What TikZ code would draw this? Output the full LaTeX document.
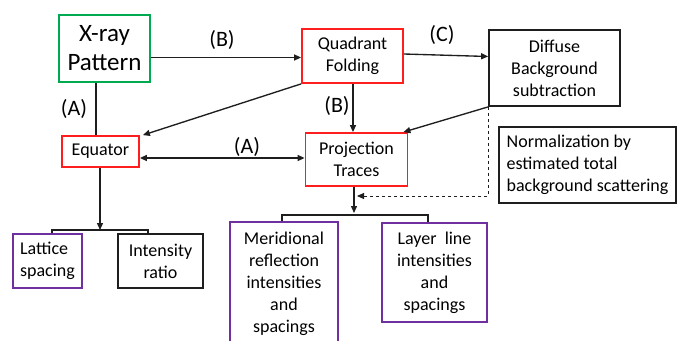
\documentclass[tikz,border=0pt]{standalone}
\usepackage{fontspec}
\setmainfont{Carlito}
\usetikzlibrary{arrows.meta,calc}
\definecolor{boxgreen}{RGB}{0,170,80}
\definecolor{boxred}{RGB}{255,30,30}
\definecolor{boxpurple}{RGB}{112,48,160}
\definecolor{linegray}{RGB}{30,30,30}
\begin{document}
\begin{tikzpicture}[x=1pt,y=-1pt,
  every node/.style={font=\fontsize{18}{22}\selectfont, inner sep=2pt, align=center},
  box/.style={draw, line width=1.8pt, fill=white},
  greenbox/.style={box, draw=boxgreen, line width=2.6pt},
  redbox/.style={box, draw=boxred},
  blackbox/.style={box, draw=linegray},
  purplebox/.style={box, draw=boxpurple},
  conn/.style={draw=linegray, line width=1.35pt},
  arr/.style={conn, -{Triangle[length=7pt,width=6pt]}},
  darr/.style={conn, {Triangle[length=7pt,width=6pt]}-{Triangle[length=7pt,width=6pt]}},
  lab/.style={font=\fontsize{22}{26}\selectfont, inner sep=0pt}
]
\useasboundingbox (0,0) rectangle (682,340);
\clip (0,0) rectangle (682,340);

% nodes
\node[greenbox, minimum width=91pt, minimum height=67pt, font=\fontsize{25}{29}\selectfont] (x) at (104.5,48.5) {X-ray\\Pattern};
\node[redbox, minimum width=101pt, minimum height=54pt] (q) at (352.5,56) {Quadrant\\Folding};
\node[blackbox, minimum width=131pt, minimum height=76pt] (d) at (554.5,68) {Diffuse\\Background\\subtraction};
\node[redbox, minimum width=77pt, minimum height=31pt] (e) at (100.5,151.5) {Equator};
\node[redbox, minimum width=102pt, minimum height=53pt] (p) at (356.5,159.5) {Projection\\Traces};
\node[blackbox, minimum width=177pt, minimum height=76pt, align=left] (n) at (587.5,165) {Normalization by\\estimated total\\background scattering};
\node[purplebox, minimum width=69pt, minimum height=54pt, align=left] (l) at (47.5,261) {Lattice\\spacing};
\node[blackbox, minimum width=85pt, minimum height=54pt] (i) at (160.5,261) {Intensity\\ratio};
\node[purplebox, minimum width=108pt, minimum height=124pt] (m) at (284,284) {Meridional\\reflection\\intensities\\and\\spacings};
\node[purplebox, minimum width=105pt, minimum height=99pt] (ll) at (434.5,272.5) {Layer\ \ line\\intensities\\and\\spacings};

% labels
\node[lab] (lb1) at (222,40) {(B)};
\node[lab] (la1) at (74,109) {(A)};
\node[lab] (lc) at (442,35) {(C)};
\node[lab] (lb2) at (337,106) {(B)};
\node[lab] (la2) at (247,147) {(A)};

% coordinates
\coordinate (dashend) at (357,196);
\coordinate (ptip) at (354,213);
\coordinate (pbl) at (282,215);
\coordinate (pbr) at (428,215);
\coordinate (etip) at (100,230);
\coordinate (ebl) at (52,230);
\coordinate (ebr) at (148,230);

% connectors
\draw[arr] (x.east |- 0,57.5) -- (q.west |- 0,57.5);
\draw[conn] ([xshift=-8.5pt]x.south) -- ([xshift=-8.5pt]x.south |- e.north);
\draw[arr] (q.south west) -- ($(e.north east)+(3,0)$);
\draw[arr] (q.east |- 0,54) -- (d.west |- 0,56.5);
\draw[arr] ([xshift=0.5pt]q.south) -- ([xshift=-3.5pt]p.north);
\draw[arr] (d.south west) -- ($(p.north east)+(-5,0)$);
\draw[darr] (e.east |- 0,158) -- (p.west |- 0,158);
\draw[conn, dashed, line width=0.9pt, -{Triangle[length=7pt,width=6pt]}] (d.south west) |- (dashend);
\draw[arr] (p.south -| ptip) -- (ptip);
\draw[conn] (m.north -| pbl) -- (pbl) -- (pbr) -- (ll.north -| pbr);
\draw[arr] (e.south -| etip) -- (etip);
\draw[conn] (l.north -| ebl) -- (ebl) -- (ebr) -- (i.north -| ebr);
\end{tikzpicture}
\end{document}
